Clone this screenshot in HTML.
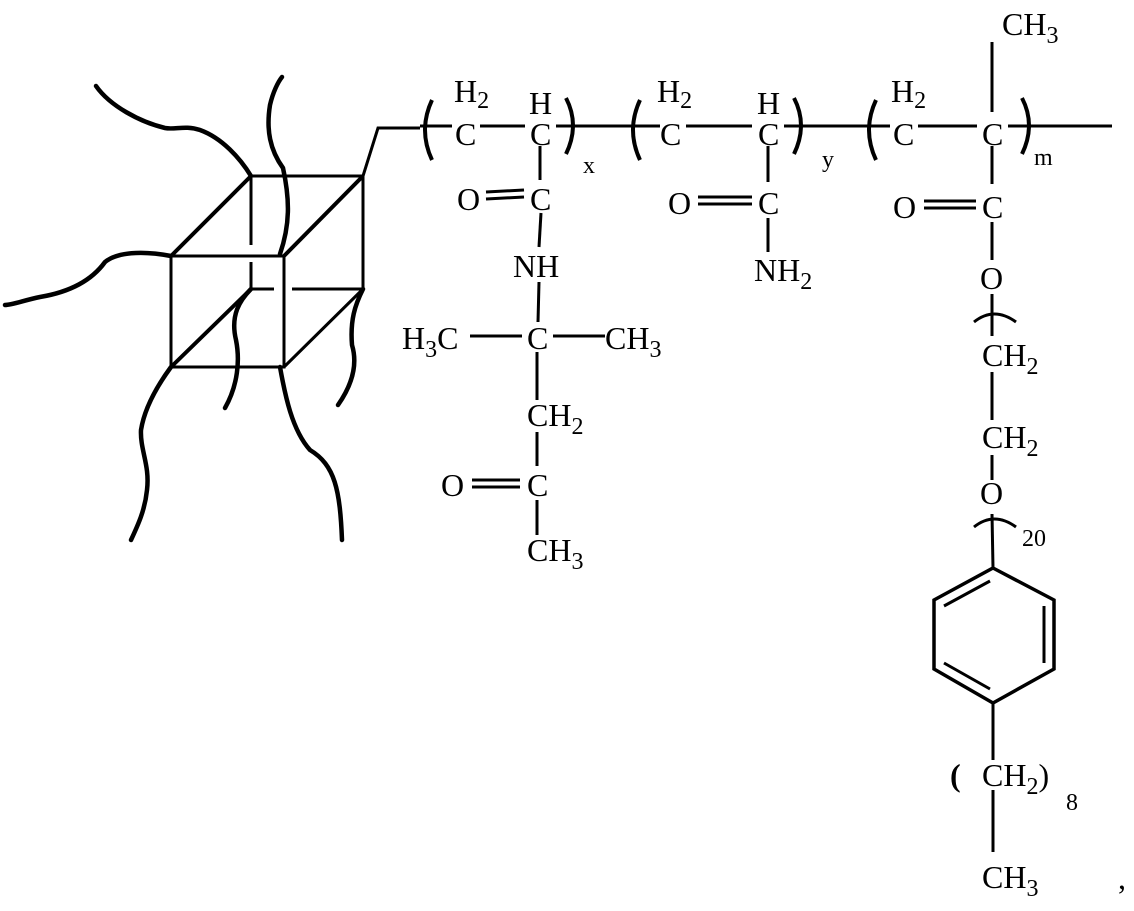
<!DOCTYPE html>
<html><head><meta charset="utf-8"><style>
html,body{margin:0;padding:0;background:#fff;}
svg{display:block;}
text{font-family:"Liberation Serif",serif;font-size:32px;fill:#000;}
.s{font-size:24px;}
</style></head><body>
<svg width="1134" height="911" viewBox="0 0 1134 911" xmlns="http://www.w3.org/2000/svg">
<g stroke="#000" stroke-width="3" fill="none" stroke-linecap="butt">
<line x1="251" y1="176" x2="363" y2="176"/>
<line x1="363" y1="176" x2="363" y2="289"/>
<line x1="251" y1="176" x2="251" y2="245"/>
<line x1="251" y1="262" x2="251" y2="289"/>
<line x1="251" y1="289" x2="274" y2="289"/>
<line x1="292" y1="289" x2="363" y2="289"/>
<rect x="171" y="256" width="113" height="111"/>
<line x1="251" y1="176" x2="171" y2="256" stroke-width="4"/>
<line x1="363" y1="176" x2="284" y2="256" stroke-width="4"/>
<line x1="251" y1="289" x2="171" y2="367" stroke-width="4"/>
<line x1="363" y1="289" x2="284" y2="367"/>
<polyline points="363,176 378,128 420,128"/>
</g>
<g stroke="#000" stroke-width="4.5" fill="none" stroke-linecap="round" stroke-linejoin="round">
<path d="M251,176 C240,158 222,138 200,130 C185,125 175,130 165,128 C140,122 110,106 96,86"/>
<path d="M280,254 C290,225 290,200 283,168 C270,150 266,130 270,105 C273,92 278,82 282,77"/>
<path d="M171,256 C150,252 120,250 105,262 C92,280 70,292 40,297 C25,300 12,305 5,305"/>
<path d="M251,289 C240,300 230,315 236,340 C240,360 238,385 225,408"/>
<path d="M363,289 C355,305 350,320 352,345 C358,365 352,385 338,405"/>
<path d="M171,367 C160,382 145,405 141,430 C140,450 150,465 147,490 C145,510 138,525 131,540"/>
<path d="M280,367 C285,395 292,430 310,450 C335,465 340,490 342,540"/>
</g>
<g stroke="#000" stroke-width="3" fill="none">
<line x1="420" y1="126" x2="452" y2="126"/>
<line x1="480" y1="126" x2="525" y2="126"/>
<line x1="556" y1="126" x2="660" y2="126"/>
<line x1="686" y1="126" x2="752" y2="126"/>
<line x1="784" y1="126" x2="890" y2="126"/>
<line x1="918" y1="126" x2="977" y2="126"/>
<line x1="1008" y1="126" x2="1112" y2="126"/>
<line x1="992" y1="42" x2="992" y2="112"/>
<path d="M432,100 Q418,130 432,160" stroke-width="4"/>
<path d="M566,98 Q580,125 566,154" stroke-width="4"/>
<path d="M640,100 Q626,130 640,160" stroke-width="4"/>
<path d="M794,98 Q808,125 794,154" stroke-width="4"/>
<path d="M876,100 Q862,130 876,160" stroke-width="4"/>
<path d="M1022,98 Q1036,125 1022,154" stroke-width="4"/>
<line x1="540" y1="146" x2="540" y2="180"/>
<line x1="486" y1="192" x2="524" y2="190"/>
<line x1="486" y1="199" x2="524" y2="197"/>
<line x1="541" y1="213" x2="539" y2="247"/>
<line x1="539" y1="282" x2="538" y2="322"/>
<line x1="470" y1="336" x2="522" y2="336"/>
<line x1="553" y1="336" x2="605" y2="336"/>
<line x1="537" y1="352" x2="537" y2="400"/>
<line x1="537" y1="432" x2="537" y2="466"/>
<line x1="472" y1="480" x2="520" y2="480"/>
<line x1="472" y1="487" x2="520" y2="487"/>
<line x1="537" y1="500" x2="537" y2="535"/>
<line x1="768" y1="146" x2="768" y2="182"/>
<line x1="698" y1="197" x2="752" y2="197"/>
<line x1="698" y1="204" x2="752" y2="204"/>
<line x1="768" y1="218" x2="768" y2="252"/>
<line x1="992" y1="146" x2="992" y2="184"/>
<line x1="924" y1="201" x2="976" y2="201"/>
<line x1="924" y1="208" x2="976" y2="208"/>
<line x1="992" y1="222" x2="992" y2="260"/>
<line x1="992" y1="294" x2="992" y2="336"/>
<path d="M974,322 Q994,306 1016,322"/>
<line x1="992" y1="372" x2="992" y2="420"/>
<line x1="992" y1="455" x2="992" y2="480"/>
<line x1="992" y1="514" x2="993" y2="568"/>
<path d="M974,527 Q994,511 1016,527"/>
<polygon points="993,568 1054,600 1054,669 993,703 934,669 934,600" stroke-width="3.5"/>
<line x1="944" y1="606" x2="990" y2="581"/>
<line x1="1044" y1="606" x2="1044" y2="663"/>
<line x1="944" y1="663" x2="990" y2="689"/>
<line x1="993" y1="703" x2="993" y2="760"/>
<line x1="993" y1="790" x2="993" y2="852"/>
</g>
<text x="1002" y="35">CH<tspan class="s" dy="8">3</tspan></text>
<text x="454" y="102">H<tspan class="s" dy="6">2</tspan></text>
<text x="529" y="114">H</text>
<text x="455" y="145">C</text>
<text x="530" y="145">C</text>
<text x="583" y="173" class="s">x</text>
<text x="657" y="102">H<tspan class="s" dy="6">2</tspan></text>
<text x="757" y="114">H</text>
<text x="660" y="145">C</text>
<text x="758" y="145">C</text>
<text x="822" y="167" class="s">y</text>
<text x="891" y="102">H<tspan class="s" dy="6">2</tspan></text>
<text x="893" y="145">C</text>
<text x="982" y="145">C</text>
<text x="1034" y="165" class="s">m</text>
<text x="457" y="210">O</text>
<text x="530" y="210">C</text>
<text x="513" y="277">NH</text>
<text x="402" y="349">H<tspan class="s" dy="8">3</tspan><tspan dy="-8">C</tspan></text>
<text x="527" y="349">C</text>
<text x="605" y="349">CH<tspan class="s" dy="8">3</tspan></text>
<text x="527" y="426">CH<tspan class="s" dy="8">2</tspan></text>
<text x="441" y="496">O</text>
<text x="527" y="496">C</text>
<text x="527" y="561">CH<tspan class="s" dy="8">3</tspan></text>
<text x="668" y="214">O</text>
<text x="758" y="214">C</text>
<text x="754" y="281">NH<tspan class="s" dy="8">2</tspan></text>
<text x="893" y="218">O</text>
<text x="982" y="218">C</text>
<text x="980" y="289">O</text>
<text x="982" y="366">CH<tspan class="s" dy="8">2</tspan></text>
<text x="982" y="448">CH<tspan class="s" dy="8">2</tspan></text>
<text x="980" y="504">O</text>
<text x="1022" y="546" class="s">20</text>
<text x="950" y="786" style="font-weight:bold">(</text>
<text x="982" y="786">CH<tspan class="s" dy="8">2</tspan><tspan dy="-8">)</tspan></text>
<text x="1066" y="810" class="s">8</text>
<text x="982" y="888">CH<tspan class="s" dy="8">3</tspan></text>
<text x="1118" y="889">,</text>
</svg>
</body></html>
